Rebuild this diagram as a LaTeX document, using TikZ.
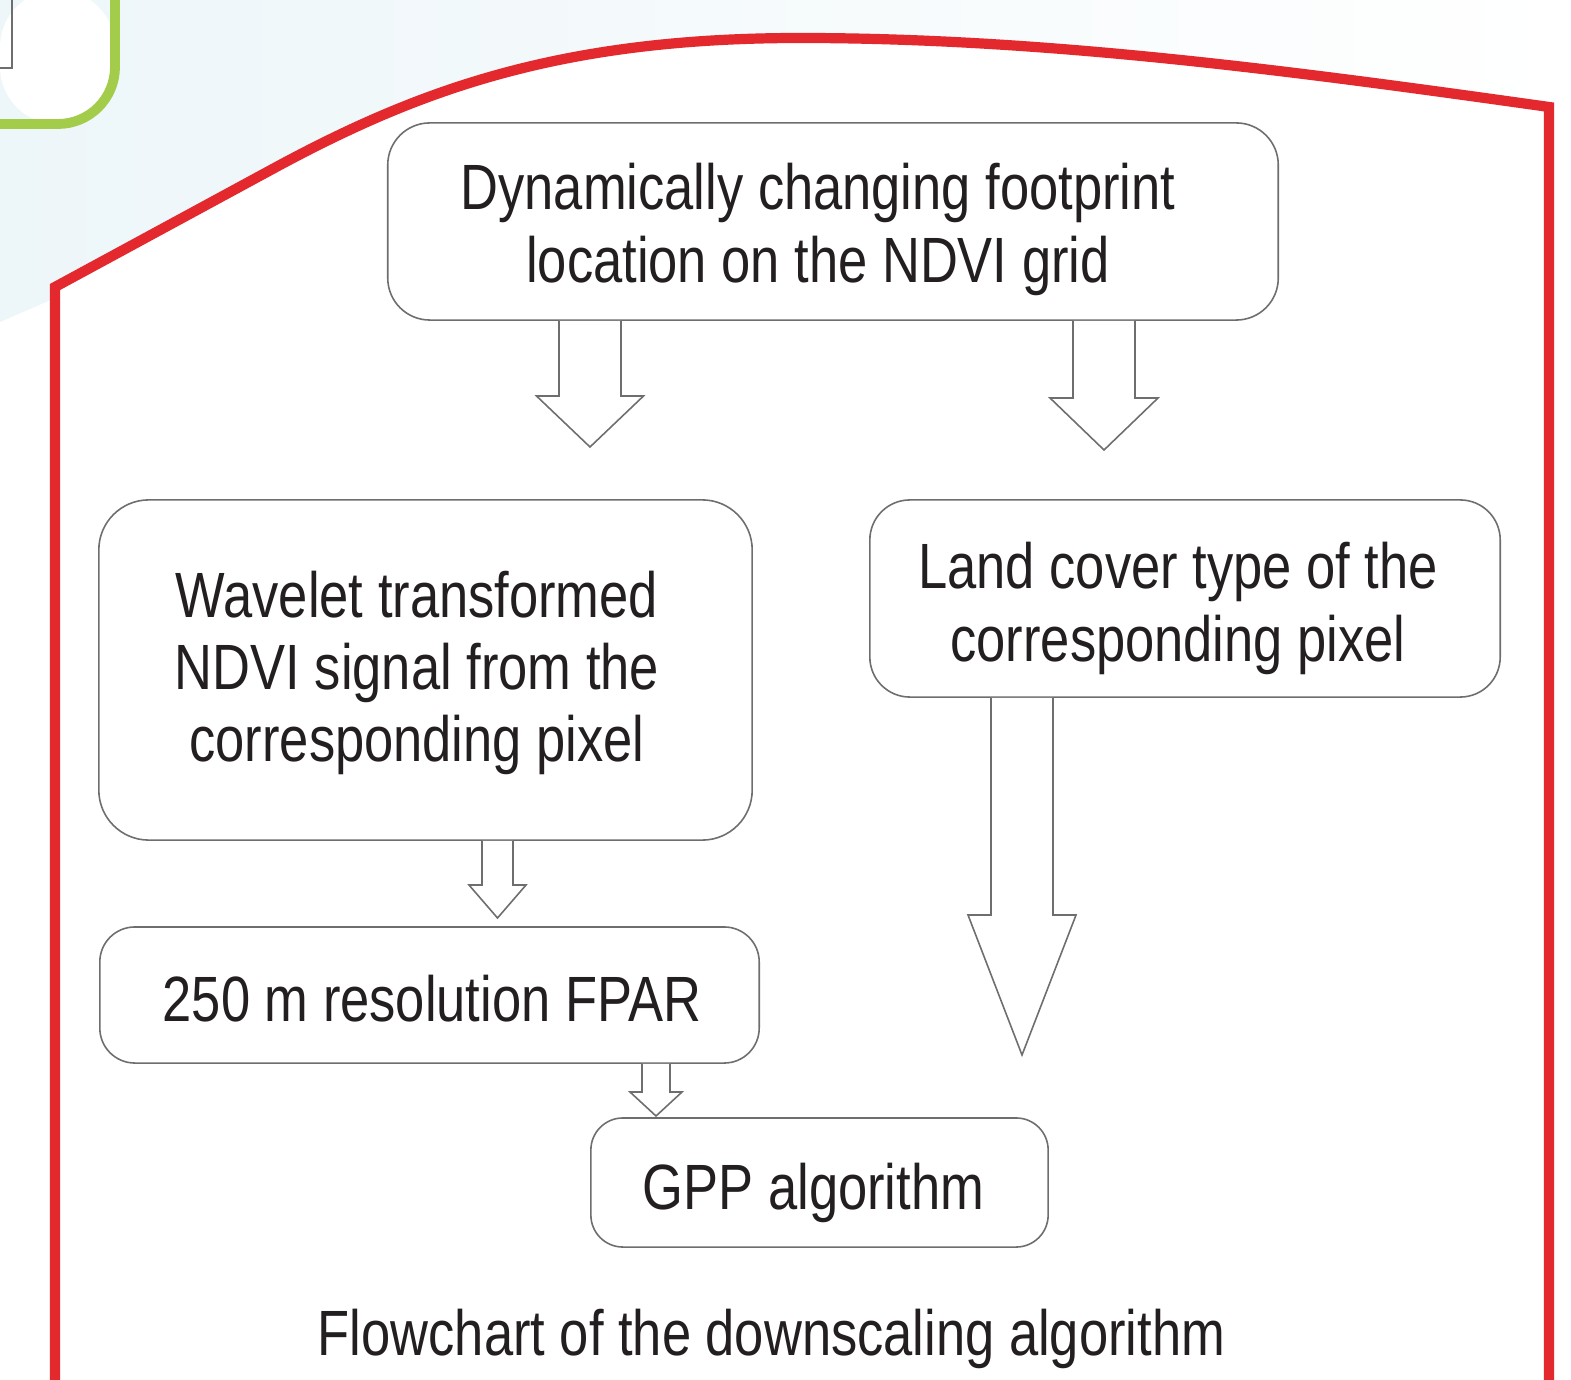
\documentclass[tikz,border=0pt]{standalone}
\usepackage{fontspec}
\setmainfont{Liberation Sans}[FakeStretch=0.82]
\usetikzlibrary{calc}
\definecolor{bgblue}{RGB}{237,246,249}
\definecolor{frameRed}{RGB}{227,41,46}
\definecolor{leafGreen}{RGB}{162,204,74}
\definecolor{boxGray}{RGB}{110,110,110}
\definecolor{inkText}{RGB}{35,31,32}
\tikzset{
  box/.style={draw=boxGray, line width=0.45pt, fill=white, inner sep=0pt},
  txt/.style={align=center, text=inkText, inner sep=0pt,
    font=\fontsize{18.2pt}{20.5pt}\selectfont},
  blk/.style={draw=boxGray, line width=0.45pt, fill=white, line join=miter}
}
\newcommand\blockarr[6]{%
  \draw[blk] (#2-#3,0 |- #1.south) -- (#2-#3,#5) -- (#2-#4,#5) -- (#2,#6)
    -- (#2+#4,#5) -- (#2+#3,#5) -- (#2+#3,0 |- #1.south);}
\begin{document}
\begin{tikzpicture}[x=0.01cm, y=-0.01cm]
\useasboundingbox (0,0) rectangle (1571,1380);
\fill[white] (0,0) rectangle (1571,1380);
% light blue background band
\shade[left color=bgblue, right color=white] (0,0) -- (1571,0) -- (1571,110) -- (510,100) -- (0,322) -- cycle;
% inside of the red frame
\fill[white] (55,1390) -- (55,287) -- (280,165) .. controls (420,90) and (560,38) .. (800,38)
  .. controls (1050,38) and (1300,72) .. (1549,107) -- (1549,1390) -- cycle;
% green box remnant
\fill[white, rounded corners=0.57cm] (0,-10) -- (115,-10) -- (115,124) -- (0,124) -- cycle;
\draw[leafGreen, line width=2.8pt, rounded corners=0.57cm] (115,-10) -- (115,124) -- (-10,124);
\draw[boxGray, line width=0.45pt] (12,-5) -- (12,68) -- (-5,68);
% red frame
\draw[frameRed, line width=2.9pt, line join=miter] (55,1395) -- (55,287) -- (280,165)
  .. controls (420,90) and (560,38) .. (800,38)
  .. controls (1050,38) and (1300,72) .. (1549,107) -- (1549,1395);
% boxes
\node[box, rounded corners=0.42cm, minimum width=8.9cm, minimum height=1.97cm] (top) at (833,221.5) {};
\node[txt] (topT) at (818,229.5) {Dynamically changing footprint\\location on the NDVI grid};
\node[box, rounded corners=0.5cm, minimum width=6.53cm, minimum height=3.4cm] (wave) at (425.5,670) {};
\node[txt] (waveT) at (417,673) {Wavelet transformed\\NDVI signal from the\\corresponding pixel};
\node[box, rounded corners=0.4cm, minimum width=6.3cm, minimum height=1.97cm] (land) at (1185,598.5) {};
\node[txt] (landT) at (1178,608.5) {Land cover type of the\\corresponding pixel};
\node[box, rounded corners=0.35cm, minimum width=6.59cm, minimum height=1.36cm] (fpar) at (429.5,995) {};
\node[txt] (fparT) at (432,999) {250 m resolution FPAR};
\node[box, rounded corners=0.32cm, minimum width=4.57cm, minimum height=1.29cm] (gpp) at (819.5,1182.5) {};
\node[txt] (gppT) at (813.5,1192.5) {GPP algorithm};
\node[txt] (cap) at (771.5,1339) {Flowchart of the downscaling algorithm};
% block arrows
\blockarr{top}{590}{31}{53.5}{396}{447}
\blockarr{top}{1104}{31}{54}{398}{450}
\blockarr{wave}{497.5}{15.5}{28.5}{885}{918}
\blockarr{fpar}{656}{14}{26}{1092}{1116}
\blockarr{land}{1022}{31}{54}{915}{1055}
\end{tikzpicture}
\end{document}
